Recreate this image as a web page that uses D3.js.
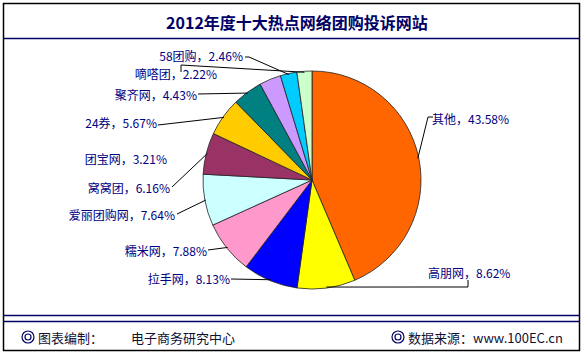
<!DOCTYPE html>
<html lang="zh-CN">
<head>
    <meta charset="UTF-8">
    <title>2012年度十大热点网络团购投诉网站</title>
    <style>
        body { margin: 0; background: #fff; }
        svg { display: block; }
        .label { font-family: "Noto Sans CJK SC", sans-serif; font-size: 12px; fill: #000080; }
        .title { font-family: "Noto Sans CJK SC", sans-serif; font-size: 16px; font-weight: bold; fill: #000066; }
        .foot { font-family: "Noto Sans CJK SC", sans-serif; font-size: 13px; fill: #111133; }
    </style>
</head>
<body>
    <svg id="chart" width="584" height="354"></svg>

    <script src="https://d3js.org/d3.v7.min.js"></script>
    <script>
        // data, in the order the slices go round (clockwise from 12 o'clock)
        var sites = ['其他', '高朋网', '拉手网', '糯米网', '爱丽团购网', '窝窝团', '24券', '聚齐网', '团宝网', '58团购', '嘀嗒团'];
        var shares = [43.58, 8.62, 8.13, 7.88, 7.64, 6.16, 5.67, 4.43, 3.21, 2.46, 2.22];
        var sliceColors = ['#FF6600', '#FFFF00', '#0000FF', '#FF99CC', '#CCFFFF', '#993366', '#FFCC00', '#008080', '#CC99FF', '#00CCFF', '#CCFFCC'];

        var titleText = '2012年度十大热点网络团购投诉网站';

        var width = 584, height = 354;
        var cx = 312, cy = 180, radius = 109;

        // where each label sits and the bend points of its leader line
        var labelLayout = {
            '其他':     { x: 432, y: 118, anchor: 'start', bend: [[433, 117], [428, 117]] },
            '高朋网':   { x: 428, y: 272, anchor: 'start', bend: [[468, 280], [468, 287], [428, 287]] },
            '拉手网':   { x: 230, y: 278, anchor: 'end', bend: [[231, 279]] },
            '糯米网':   { x: 207, y: 250, anchor: 'end', bend: [[208, 250]] },
            '爱丽团购网': { x: 175, y: 214, anchor: 'end', bend: [[177, 214]] },
            '窝窝团':   { x: 170, y: 187, anchor: 'end', bend: [[172, 187]] },
            '24券':     { x: 157, y: 122, anchor: 'end', bend: [[158, 125]] },
            '团宝网':   { x: 167, y: 158, anchor: 'end', bend: null },
            '聚齐网':   { x: 197, y: 94, anchor: 'end', bend: [[198, 94]] },
            '58团购':   { x: 243, y: 55, anchor: 'end', bend: [[245, 57], [249, 57]] },
            '嘀嗒团':   { x: 217, y: 73, anchor: 'end', bend: [[181, 72], [181, 65]] }
        };

        var svg = d3.select('#chart');

        // frame and divider lines
        svg.append('rect')
            .attr('x', 3.5).attr('y', 3.5)
            .attr('width', 576).attr('height', 347)
            .attr('fill', '#fff')
            .attr('stroke', '#000')
            .attr('stroke-width', 1.5);

        [38.5, 315.5, 321.5].forEach(function (y) {
            svg.append('line')
                .attr('x1', 3.5).attr('x2', 579.5)
                .attr('y1', y).attr('y2', y)
                .attr('stroke', '#000066')
                .attr('stroke-width', 1.5);
        });

        svg.append('text')
            .attr('class', 'title')
            .attr('x', 297).attr('y', 22)
            .attr('text-anchor', 'middle')
            .attr('dominant-baseline', 'central')
            .text(titleText);

        // pie
        var pie = d3.pie().sort(null).value(function (d) { return d; });
        var arcs = pie(shares);
        var arc = d3.arc().innerRadius(0).outerRadius(radius);

        var g = svg.append('g').attr('transform', 'translate(' + cx + ',' + cy + ')');

        // leader lines go first so the pie hides the part that runs under it
        var leaders = svg.append('g');
        arcs.forEach(function (a, i) {
            var lay = labelLayout[sites[i]];
            if (!lay.bend) return;
            var mid = (a.startAngle + a.endAngle) / 2;
            var end = [cx + Math.sin(mid) * (radius - 1), cy - Math.cos(mid) * (radius - 1)];
            var pts = lay.bend.concat([end]);
            leaders.append('path')
                .attr('d', d3.line()(pts))
                .attr('fill', 'none')
                .attr('stroke', '#000')
                .attr('stroke-width', 1);
        });

        g.selectAll('path.slice')
            .data(arcs)
            .enter()
            .append('path')
            .attr('class', 'slice')
            .attr('d', arc)
            .attr('fill', function (d, i) { return sliceColors[i]; })
            .attr('stroke', '#222')
            .attr('stroke-width', 0.8);

        // data labels
        svg.selectAll('text.label')
            .data(arcs)
            .enter()
            .append('text')
            .attr('class', 'label')
            .attr('x', function (d, i) { return labelLayout[sites[i]].x; })
            .attr('y', function (d, i) { return labelLayout[sites[i]].y; })
            .attr('text-anchor', function (d, i) { return labelLayout[sites[i]].anchor; })
            .attr('dominant-baseline', 'central')
            .text(function (d, i) { return sites[i] + '，' + d3.format('.2f')(shares[i]) + '%'; });

        // footer
        function ring(x, y) {
            svg.append('circle').attr('cx', x).attr('cy', y).attr('r', 6)
                .attr('fill', 'none').attr('stroke', '#000066').attr('stroke-width', 1.2);
            svg.append('circle').attr('cx', x).attr('cy', y).attr('r', 3)
                .attr('fill', 'none').attr('stroke', '#000066').attr('stroke-width', 1.2);
        }
        ring(28, 337);
        ring(398, 337);

        var footTexts = [
            { x: 38, t: '图表编制：' },
            { x: 131, t: '电子商务研究中心' },
            { x: 408, t: '数据来源：www.100EC.cn' }
        ];
        footTexts.forEach(function (f) {
            svg.append('text')
                .attr('class', 'foot')
                .attr('x', f.x).attr('y', 337)
                .attr('dominant-baseline', 'central')
                .text(f.t);
        });
    </script>
</body>
</html>
